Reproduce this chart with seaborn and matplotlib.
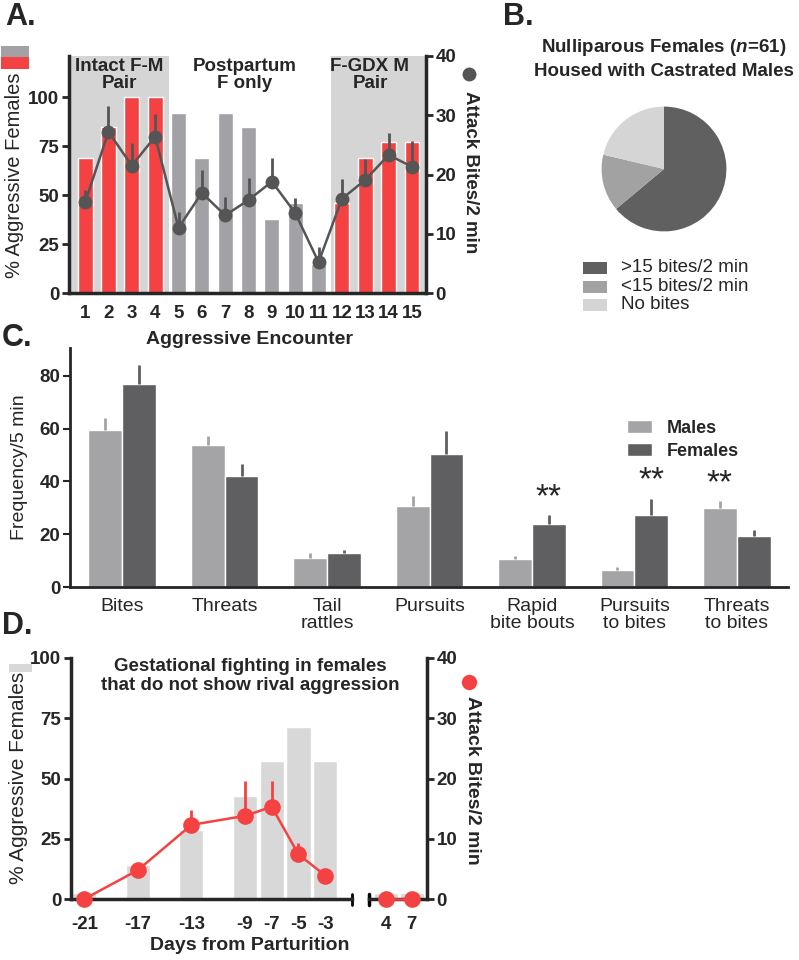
import numpy as np
import pandas as pd
import matplotlib
matplotlib.use('Agg')
import matplotlib.pyplot as plt
from matplotlib.patches import Rectangle
from matplotlib.lines import Line2D
import seaborn as sns

# ---- Panel A: aggressive encounters
encounters = [str(i) for i in range(1, 16)]
pct_aggressive = [69, 85, 100, 100, 92, 69, 92, 85, 38, 46, 15, 46, 69, 77, 77]
housing = ['pair'] * 4 + ['post'] * 7 + ['pair'] * 4
bites_a = [15.3, 27.2, 21.5, 26.4, 11.0, 16.9, 13.1, 15.7, 18.8, 13.5, 5.2, 15.9, 19.1, 23.3, 21.3]
bites_a_sem = [2.1, 4.4, 3.9, 3.8, 2.7, 3.8, 3.1, 3.7, 4.0, 2.6, 2.6, 3.4, 3.5, 3.7, 4.4]

# ---- Panel B: pie
pie_labels = ['>15 bites/2 min', '<15 bites/2 min', 'No bites']
pie_counts = [39, 9, 13]

# ---- Panel C: behaviours by sex
behaviors = ['Bites', 'Threats', 'Tail\nrattles', 'Pursuits', 'Rapid\nbite bouts',
             'Pursuits\nto bites', 'Threats\nto bites']
males_freq = [59.7, 53.8, 10.9, 30.6, 10.5, 6.6, 30.0]
males_sem = [4.2, 3.5, 2.0, 4.0, 1.1, 1.0, 2.5]
females_freq = [76.8, 42.2, 12.7, 50.4, 23.8, 27.2, 19.2]
females_sem = [7.4, 4.4, 1.2, 8.8, 3.4, 6.3, 2.3]
signif = ['', '', '', '', 'Females', 'Females', 'Males']

# ---- Panel D: gestational fighting
days_pre = [-21, -17, -13, -9, -7, -5, -3]
pct_pre = [2.5, 14.3, 28.6, 42.9, 57.1, 71.4, 57.1]
bites_pre = [0, 4.8, 12.3, 13.8, 15.3, 7.4, 3.9]
bites_pre_sem = [0, 0, 2.5, 5.8, 4.3, 1.9, 0]
days_post = [4, 7]
pct_post = [2.5, 2.5]
bites_post = [0, 0]

RED = '#F44242'
GRAY = '#A1A1A6'
SHADE = '#D5D5D5'
DARK = '#555555'
MALE_C = '#A4A4A7'
FEMALE_C = '#5F5F61'
PIE_C = ['#606060', '#A2A2A2', '#D5D5D5']
D_BAR = '#D8D8D8'

sns.set_style('ticks')
plt.rcParams['font.family'] = ['Liberation Sans', 'DejaVu Sans']
plt.rcParams['mathtext.fontset'] = 'custom'
plt.rcParams['mathtext.it'] = 'Liberation Sans:italic:bold'
plt.rcParams['mathtext.rm'] = 'Liberation Sans:bold'

W, H = 799, 960
fig = plt.figure(figsize=(W / 100, H / 100), dpi=100)


def box(l, t, r, b):
    return [l / W, 1 - b / H, (r - l) / W, (b - t) / H]


def ftext(x, y, s, **kw):
    return fig.text(x / W, 1 - y / H, s, **kw)


def frect(l, t, r, b, color):
    fig.add_artist(Rectangle((l / W, 1 - b / H), (r - l) / W, (b - t) / H,
                             transform=fig.transFigure, color=color, lw=0))


def fdot(x, y, color, size):
    fig.add_artist(Line2D([x / W], [1 - y / H], marker='o', color=color,
                          markersize=size, transform=fig.transFigure))


def style_spines(ax, show, lw=2.5):
    for side in ['top', 'bottom', 'left', 'right']:
        ax.spines[side].set_visible(side in show)
        ax.spines[side].set_linewidth(lw)


# ================= Panel A =================
axA = fig.add_axes(box(69, 56, 426, 293))
dfA = pd.DataFrame({'encounter': encounters, 'pct': pct_aggressive, 'housing': housing})
axA.axvspan(-0.69, 3.59, color=SHADE, lw=0, zorder=0)
axA.axvspan(10.51, 14.6, color=SHADE, lw=0, zorder=0)
sns.barplot(data=dfA, x='encounter', y='pct', hue='housing', dodge=False,
            palette={'pair': RED, 'post': GRAY}, width=0.64, saturation=1,
            legend=False, ax=axA)
axA.set_xlim(-0.69, 14.6)
axA.set_ylim(0, 121)
axA.set_yticks([0, 25, 50, 75, 100])
axA.set_xlabel('')
axA.set_ylabel('')
style_spines(axA, ['left', 'bottom'])
axA.tick_params(axis='y', length=5, width=2, pad=2, labelsize=13.5)
axA.tick_params(axis='x', length=0, pad=9, labelsize=13.5)
for lab in axA.get_xticklabels() + axA.get_yticklabels():
    lab.set_fontweight('bold')

axA2 = axA.twinx()
xa = np.arange(len(bites_a))
axA2.errorbar(xa, bites_a, yerr=[np.zeros(len(xa)), bites_a_sem], fmt='none',
              ecolor=DARK, elinewidth=2, capsize=0)
sns.lineplot(x=xa, y=bites_a, ax=axA2, color=DARK, marker='o', markersize=10,
             markeredgewidth=0, linewidth=1.8)
axA2.set_ylim(0, 40)
axA2.set_yticks([0, 10, 20, 30, 40])
style_spines(axA2, ['right'])
axA2.tick_params(axis='y', length=5, width=2, pad=2, labelsize=13.5)
for lab in axA2.get_yticklabels():
    lab.set_fontweight('bold')

for xpos, txt in [(1.45, 'Intact F-M\nPair'), (6.83, 'Postpartum\nF only'),
                  (12.2, 'F-GDX M\nPair')]:
    axA.text(xpos, 120, txt, ha='center', va='top', fontsize=13.5,
             fontweight='bold', linespacing=1.0)

ftext(250, 339, 'Aggressive Encounter', ha='center', va='center',
      fontsize=14, fontweight='bold')
frect(1, 46, 29, 57, GRAY)
frect(1, 57, 29, 69, RED)
ftext(15, 175, '% Aggressive Females', rotation=90, ha='center', va='center', fontsize=14.5)
fdot(469, 74, DARK, 9)
ftext(470, 172, 'Attack Bites/2 min', rotation=-90, ha='center', va='center',
      fontsize=13.5, fontweight='bold')
ftext(5, 17, 'A.', ha='left', va='center', fontsize=22, fontweight='bold')

# ================= Panel B =================
axB = fig.add_axes(box(586, 91, 742, 247))
axB.pie(pie_counts, colors=PIE_C, startangle=90, counterclock=False,
        wedgeprops={'linewidth': 0})
axB.set_aspect('equal')
ftext(503, 17, 'B.', ha='left', va='center', fontsize=22, fontweight='bold')
ftext(664, 48, 'Nulliparous Females ($n$=61)', ha='center', va='center',
      fontsize=13.5, fontweight='bold')
ftext(664, 71, 'Housed with Castrated Males', ha='center', va='center',
      fontsize=13.5, fontweight='bold')
for i, (lab, col) in enumerate(zip(pie_labels, PIE_C)):
    yc = 268 + i * 18.5
    frect(583, yc - 6, 607, yc + 6, col)
    ftext(621, yc, lab, ha='left', va='center', fontsize=13.5)

# ================= Panel C =================
axC = fig.add_axes(box(70, 348, 788, 587))
dfC = pd.DataFrame({
    'behavior': behaviors * 2,
    'freq': males_freq + females_freq,
    'sex': ['Males'] * len(behaviors) + ['Females'] * len(behaviors),
})
sns.barplot(data=dfC, x='behavior', y='freq', hue='sex',
            palette={'Males': MALE_C, 'Females': FEMALE_C}, width=0.66,
            saturation=1, ax=axC)
xc = np.arange(len(behaviors))
axC.errorbar(xc - 0.165, males_freq, yerr=[np.zeros(len(xc)), males_sem],
             fmt='none', ecolor=MALE_C, elinewidth=2, capsize=0)
axC.errorbar(xc + 0.165, females_freq, yerr=[np.zeros(len(xc)), females_sem],
             fmt='none', ecolor=FEMALE_C, elinewidth=2, capsize=0)
for i, s in enumerate(signif):
    if s == 'Males':
        axC.text(i - 0.165, males_freq[i] + males_sem[i] + 0.8, '**', ha='center',
                 va='bottom', fontsize=24)
    elif s == 'Females':
        axC.text(i + 0.165, females_freq[i] + females_sem[i] + 0.8, '**', ha='center',
                 va='bottom', fontsize=24)
axC.set_xlim(-0.51, 6.5)
axC.set_ylim(0, 90.6)
axC.set_yticks([0, 20, 40, 60, 80])
axC.set_xlabel('')
axC.set_ylabel('Frequency/5 min', fontsize=14, labelpad=8)
style_spines(axC, ['left', 'bottom'], lw=2)
axC.tick_params(axis='y', length=5, width=1.5, pad=2, labelsize=13.5)
axC.tick_params(axis='x', length=0, pad=8, labelsize=14)
for lab in axC.get_yticklabels():
    lab.set_fontweight('bold')
for lab in axC.get_xticklabels():
    lab.set_linespacing(1.0)
leg = axC.legend(loc='center left', bbox_to_anchor=((627 - 70) / 718, (587 - 440) / 239),
                 frameon=False, handlelength=1.4, handleheight=0.75,
                 handletextpad=0.8, labelspacing=0.35, borderpad=0, borderaxespad=0,
                 prop={'size': 13, 'weight': 'bold'})
ftext(2, 338, 'C.', ha='left', va='center', fontsize=22, fontweight='bold')

# ================= Panel D =================
axD1 = fig.add_axes(box(71, 658, 352, 899))
axD2 = fig.add_axes(box(369, 658, 427, 899))

sns.barplot(x=days_pre, y=pct_pre, native_scale=True, color=D_BAR, width=0.9,
            saturation=1, ax=axD1)
sns.barplot(x=days_post, y=pct_post, native_scale=True, color=D_BAR, width=0.9,
            saturation=1, ax=axD2)
axD1.set_xlim(-22, -1)
axD2.set_xlim(2.05, 8.75)
for ax in (axD1, axD2):
    ax.set_ylim(0, 100)
    ax.set_xlabel('')
    ax.set_ylabel('')
axD1.set_xticks(days_pre)
axD1.set_xticklabels([str(d) for d in days_pre])
axD2.set_xticks(days_post)
axD2.set_xticklabels([str(d) for d in days_post])
axD1.set_yticks([0, 25, 50, 75, 100])
axD2.set_yticks([])
style_spines(axD1, ['left', 'bottom'])
style_spines(axD2, ['bottom'])
for ax in (axD1, axD2):
    ax.tick_params(axis='x', length=0, pad=12, labelsize=13.5)
    ax.tick_params(axis='y', length=5, width=2, pad=2, labelsize=13.5)
    for lab in ax.get_xticklabels() + ax.get_yticklabels():
        lab.set_fontweight('bold')

# axis break markers
axD1.plot([1, 1], [-0.025, 0.02], transform=axD1.transAxes, color='black',
          lw=2, clip_on=False)
axD2.plot([0, 0], [-0.025, 0.02], transform=axD2.transAxes, color='black',
          lw=2.5, clip_on=False)

axD1t = axD1.twinx()
axD1t.errorbar(days_pre, bites_pre, yerr=[np.zeros(len(days_pre)), bites_pre_sem],
               fmt='none', ecolor=RED, elinewidth=2, capsize=0)
sns.lineplot(x=days_pre, y=bites_pre, ax=axD1t, color=RED, marker='o', markersize=12,
             markeredgewidth=0, linewidth=1.8, clip_on=False, zorder=5)
axD1t.set_ylim(0, 40)
axD1t.set_yticks([])
style_spines(axD1t, [])

axD2t = axD2.twinx()
sns.lineplot(x=days_post, y=bites_post, ax=axD2t, color=RED, marker='o', markersize=12,
             markeredgewidth=0, linewidth=1.8, clip_on=False, zorder=5)
axD2t.set_ylim(0, 40)
axD2t.set_yticks([0, 10, 20, 30, 40])
style_spines(axD2t, ['right'])
axD2t.tick_params(axis='y', length=5, width=2, pad=2, labelsize=13.5)
for lab in axD2t.get_yticklabels():
    lab.set_fontweight('bold')

ftext(250, 676, 'Gestational fighting in females\nthat do not show rival aggression',
      ha='center', va='center', fontsize=13.5, fontweight='bold', linespacing=1.1)
ftext(250, 945, 'Days from Parturition', ha='center', va='center',
      fontsize=14, fontweight='bold')
frect(9, 664, 32, 672, D_BAR)
ftext(19, 778, '% Aggressive Females', rotation=90, ha='center', va='center', fontsize=15)
fdot(469, 682, RED, 10)
ftext(472, 780, 'Attack Bites/2 min', rotation=-90, ha='center', va='center',
      fontsize=14, fontweight='bold')
ftext(2, 626, 'D.', ha='left', va='center', fontsize=22, fontweight='bold')

fig.savefig('out.png', dpi=100)
